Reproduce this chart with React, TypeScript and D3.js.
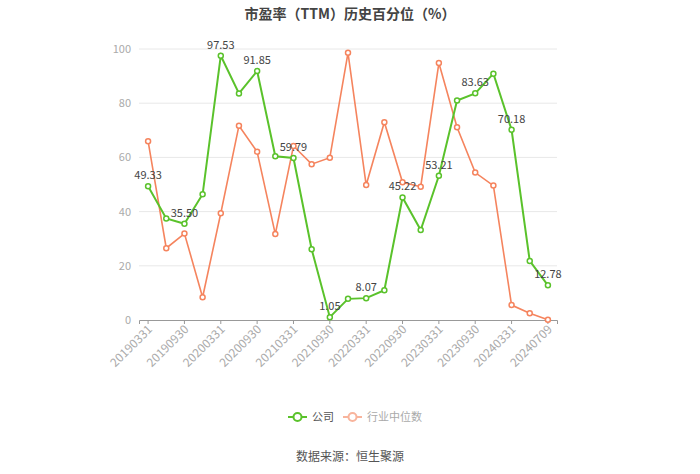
import * as d3 from 'd3';
import { useRef, useEffect } from 'react';

const dates = [
  '20190331', '20190630', '20190930', '20191231',
  '20200331', '20200630', '20200930', '20201231',
  '20210331', '20210630', '20210930', '20211231',
  '20220331', '20220630', '20220930', '20221231',
  '20230331', '20230630', '20230930', '20231231',
  '20240331', '20240630', '20240709',
];

const company = [
  49.33, 37.5, 35.5, 46.4,
  97.53, 83.6, 91.85, 60.4,
  59.79, 26.1, 1.05, 7.8,
  8.07, 11.0, 45.22, 33.2,
  53.21, 81.0, 83.63, 90.9,
  70.18, 21.8, 12.78,
];

const industry = [
  66.0, 26.5, 31.9, 8.4,
  39.4, 71.7, 62.1, 31.7,
  64.2, 57.5, 59.9, 98.6,
  49.8, 73.0, 50.8, 49.2,
  94.8, 71.1, 54.4, 49.6,
  5.5, 2.5, 0.1,
];

const yTicks = [0, 20, 40, 60, 80, 100];

const GREEN = '#5ac22b';
const ORANGE = '#f5845e';
const FONT = '"Noto Sans CJK SC", "Noto Sans", sans-serif';

const App = () => {
  const svgRef = useRef(null);

  useEffect(() => {
    const svg = d3.select(svgRef.current);
    const width = 700;
    const height = 474;
    const margin = { top: 49, right: 143, bottom: 154, left: 139 };

    svg.selectAll('*').remove();
    svg.attr('width', width).attr('height', height).style('font-family', FONT);

    const x = d3.scaleBand()
      .domain(dates)
      .range([margin.left, width - margin.right]);

    const y = d3.scaleLinear()
      .domain([0, 100])
      .range([height - margin.bottom, margin.top]);

    const cx = d => x(d) + x.bandwidth() / 2;

    // title
    svg.append('text')
      .attr('x', width / 2)
      .attr('y', 19)
      .attr('text-anchor', 'middle')
      .style('font-size', '14px')
      .style('font-weight', 'bold')
      .attr('fill', '#444')
      .text('市盈率（TTM）历史百分位（%）');

    // grid
    svg.append('g')
      .selectAll('line')
      .data(yTicks.filter(t => t > 0))
      .enter().append('line')
      .attr('x1', margin.left)
      .attr('x2', width - margin.right)
      .attr('y1', d => y(d))
      .attr('y2', d => y(d))
      .attr('stroke', '#e8e8e8');

    const yAxisG = svg.append('g')
      .attr('transform', `translate(${margin.left},0)`)
      .call(d3.axisLeft(y).tickValues(yTicks).tickSize(0).tickPadding(8));
    yAxisG.select('.domain').remove();
    yAxisG.selectAll('text')
      .style('font-size', '11px')
      .style('font-family', FONT)
      .attr('fill', '#aaa');

    const xAxisG = svg.append('g')
      .attr('transform', `translate(0,${height - margin.bottom})`)
      .call(d3.axisBottom(x)
        .tickValues(dates.filter((d, i) => i % 2 === 0))
        .tickSizeOuter(0)
        .tickSize(4));
    xAxisG.select('.domain').attr('stroke', '#999');
    xAxisG.selectAll('.tick line').attr('stroke', '#999');
    xAxisG.selectAll('text')
      .style('font-size', '12px')
      .style('font-family', FONT)
      .attr('fill', '#aaa')
      .attr('dy', '0.3em')
      .attr('dx', '-0.3em')
      .attr('transform', 'rotate(-45)')
      .style('text-anchor', 'end');

    const line = d3.line()
      .x((d, i) => cx(dates[i]))
      .y(d => y(d));

    const drawSeries = (data, color, w) => {
      svg.append('path')
        .datum(data)
        .attr('d', line)
        .attr('fill', 'none')
        .attr('stroke', color)
        .attr('stroke-width', w);
      svg.append('g')
        .selectAll('circle')
        .data(data)
        .enter().append('circle')
        .attr('cx', (d, i) => cx(dates[i]))
        .attr('cy', d => y(d))
        .attr('r', 2.5)
        .attr('fill', '#fff')
        .attr('stroke', color)
        .attr('stroke-width', 1.5);
    };

    drawSeries(industry, ORANGE, 1.6);
    drawSeries(company, GREEN, 2);

    // value labels on every other company point
    svg.append('g')
      .selectAll('text')
      .data(company.map((v, i) => ({ v, i })).filter(d => d.i % 2 === 0))
      .enter().append('text')
      .attr('x', d => cx(dates[d.i]))
      .attr('y', d => y(d.v) - 7)
      .attr('text-anchor', 'middle')
      .style('font-size', '11px')
      .attr('fill', '#444')
      .text(d => d.v.toFixed(2));

    // legend
    const legend = svg.append('g').attr('transform', 'translate(0,417)');
    const items = [
      { name: '公司', color: GREEN, text: '#555', x: 288 },
      { name: '行业中位数', color: '#f8b49c', text: '#aaa', x: 343 },
    ];
    items.forEach(it => {
      legend.append('line')
        .attr('x1', it.x).attr('x2', it.x + 19)
        .attr('y1', 0).attr('y2', 0)
        .attr('stroke', it.color).attr('stroke-width', 2);
      legend.append('circle')
        .attr('cx', it.x + 9.5).attr('cy', 0).attr('r', 4)
        .attr('fill', '#fff').attr('stroke', it.color).attr('stroke-width', 2);
      legend.append('text')
        .attr('x', it.x + 24).attr('y', 4)
        .style('font-size', '11px')
        .attr('fill', it.text)
        .text(it.name);
    });

    svg.append('text')
      .attr('x', width / 2)
      .attr('y', 461)
      .attr('text-anchor', 'middle')
      .style('font-size', '12px')
      .attr('fill', '#555')
      .text('数据来源：恒生聚源');
  }, []);

  return (
    <div style={{ position: 'absolute', left: 0, top: 0 }}>
      <svg ref={svgRef}></svg>
    </div>
  );
};

export default App;
